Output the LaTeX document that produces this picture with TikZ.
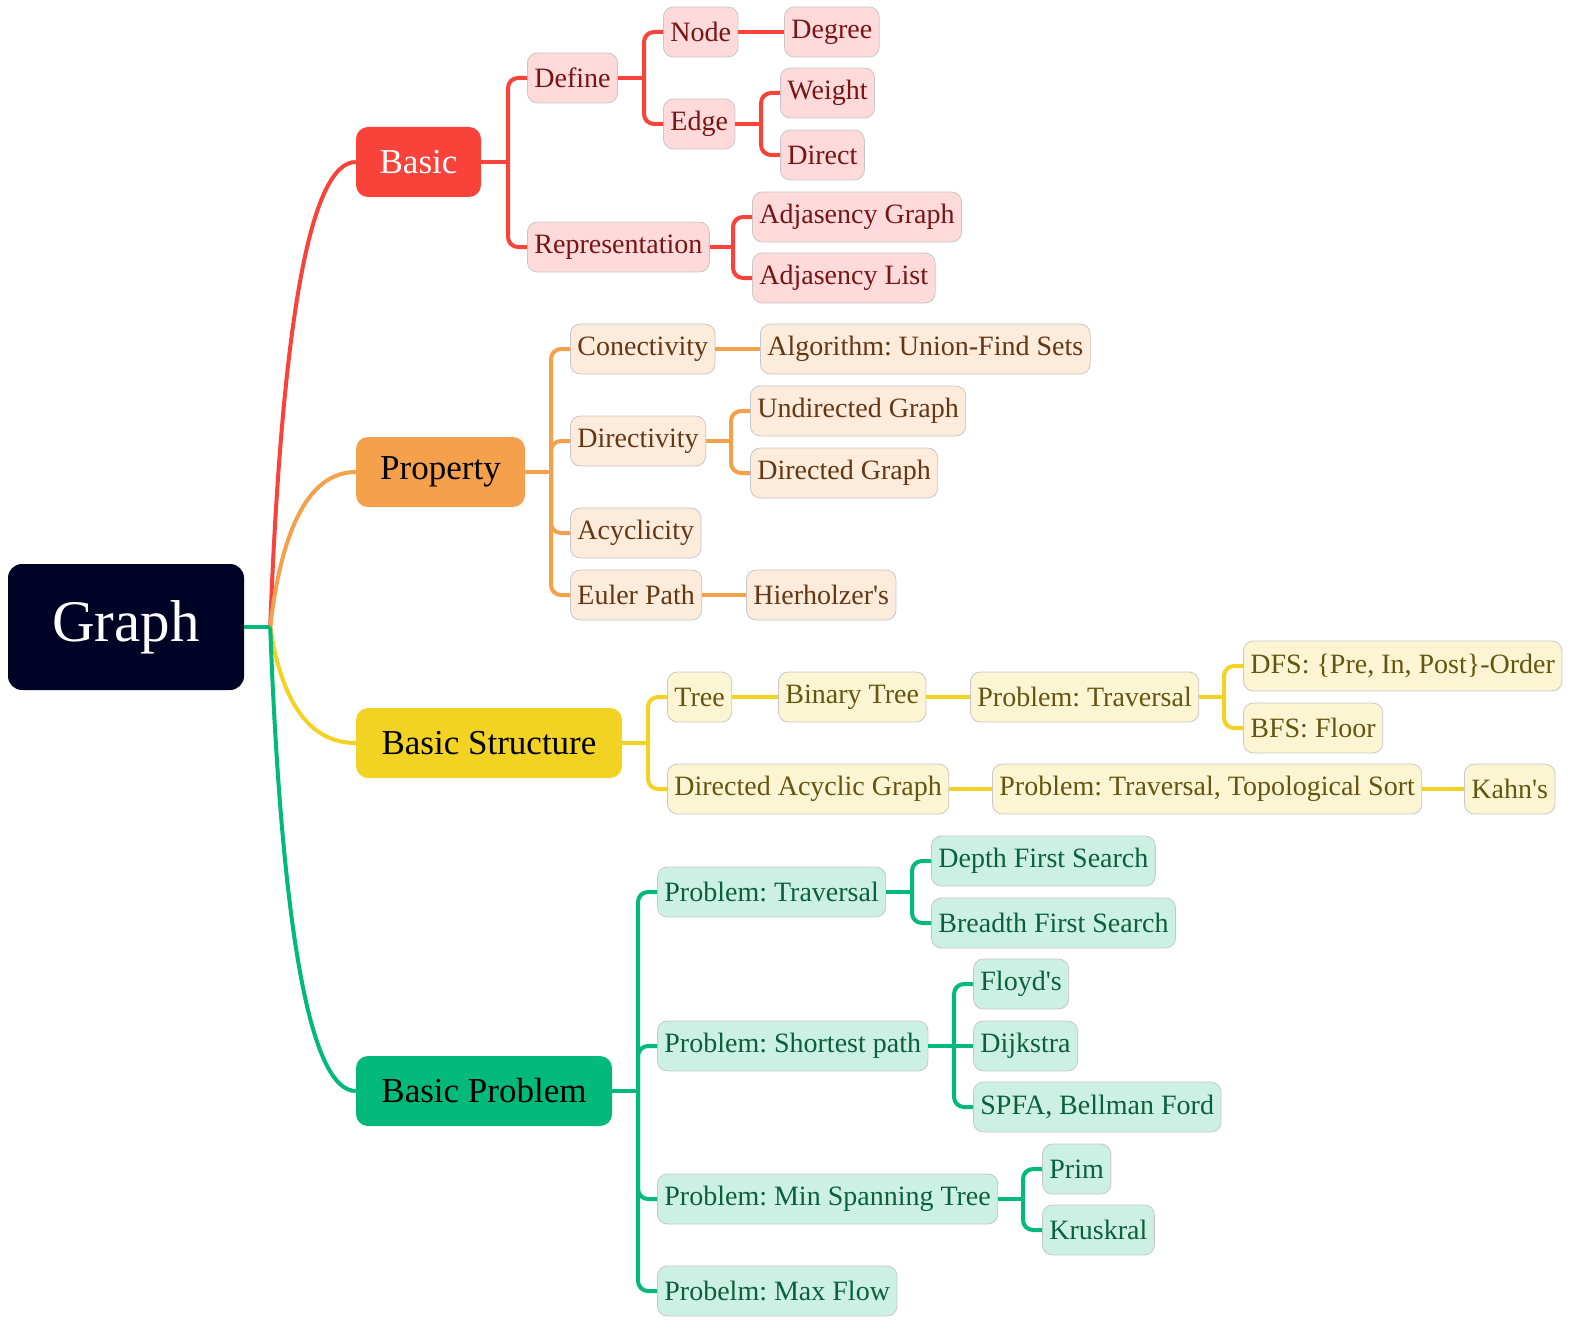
\documentclass[tikz,border=0pt]{standalone}
\usepackage{fontspec}
\setmainfont{Liberation Serif}[Ligatures=TeXOff]
\usetikzlibrary{calc}
\frenchspacing

\definecolor{rootc}{RGB}{0,2,38}
\definecolor{redc}{RGB}{249,67,58}
\definecolor{orangec}{RGB}{245,160,75}
\definecolor{yellowc}{RGB}{242,211,35}
\definecolor{greenc}{RGB}{0,185,122}
\definecolor{redbg}{RGB}{254,218,218}
\definecolor{redtx}{RGB}{120,20,20}
\definecolor{orangebg}{RGB}{253,235,220}
\definecolor{orangetx}{RGB}{100,55,20}
\definecolor{yellowbg}{RGB}{252,245,212}
\definecolor{yellowtx}{RGB}{100,85,15}
\definecolor{greenbg}{RGB}{204,241,228}
\definecolor{greentx}{RGB}{10,95,65}

\tikzset{
  leaf/.style={draw=black!22, line width=0.8pt, rounded corners=10, inner xsep=7,
    inner ysep=0, minimum height=50, anchor=west, font=\fontsize{28}{33}\selectfont},
  topic/.style={rounded corners=12, inner sep=0, minimum height=70,
    font=\fontsize{35}{42}\selectfont},
  redleaf/.style={leaf, fill=redbg, text=redtx},
  orangeleaf/.style={leaf, fill=orangebg, text=orangetx},
  yellowleaf/.style={leaf, fill=yellowbg, text=yellowtx},
  greenleaf/.style={leaf, fill=greenbg, text=greentx},
  link/.style={line width=4},
}

% parent -> child, elbow through a spine left of the child
\newcommand{\branch}[3]{%
  \coordinate (sp) at ($(#2.east -| #3.west)+(-19,0)$);
  \draw[link,#1] (#2.east) -- (sp);
  \draw[link,#1,rounded corners=10] (sp) |- (#3.west);}
% parent -> only child, same height
\newcommand{\follow}[3]{\draw[link,#1] (#2.east) -- (#3.west);}

\begin{document}
\begin{tikzpicture}[x=1pt,y=-1pt]
\useasboundingbox (0,0) rectangle (1581,1343);

\node[fill=rootc,text=white,rounded corners=14,inner sep=0,minimum width=236,minimum height=126,font=\fontsize{59}{70}\selectfont] (graph) at (126,627) {Graph};

\node[topic,fill=redc,text=white,minimum width=125] (basic) at (418.5,162) {Basic};
\node[topic,fill=orangec,minimum width=169] (property) at (440.5,472) {Property};
\node[topic,fill=yellowc,minimum width=266] (structure) at (489,743) {Basic Structure};
\node[topic,fill=greenc,minimum width=256] (problem) at (484,1091) {Basic Problem};

% Basic
\node[redleaf] (define) at (527,78) {Define};
\node[redleaf] (repr) at (527,247) {Representation};
\node[redleaf] (vertex) at (663,32) {Node};
\node[redleaf] (edge) at (663,124) {Edge};
\node[redleaf] (degree) at (784,32) {Degree};
\node[redleaf] (weight) at (780,93) {Weight};
\node[redleaf] (direct) at (780,155) {Direct};
\node[redleaf] (adjgraph) at (752,217) {Adjasency Graph};
\node[redleaf] (adjlist) at (752,278) {Adjasency List};

% Property
\node[orangeleaf] (conect) at (570,349) {Conectivity};
\node[orangeleaf] (unionfind) at (760,349) {Algorithm: Union-Find Sets};
\node[orangeleaf] (directiv) at (570,441) {Directivity};
\node[orangeleaf] (undirected) at (750,411) {Undirected Graph};
\node[orangeleaf] (directed) at (750,473) {Directed Graph};
\node[orangeleaf] (acyclic) at (570,533) {Acyclicity};
\node[orangeleaf] (euler) at (570,595) {Euler Path};
\node[orangeleaf] (hierholzer) at (746,595) {Hierholzer's};

% Basic Structure
\node[yellowleaf] (tree) at (667,697) {Tree};
\node[yellowleaf] (bintree) at (778,697) {Binary Tree};
\node[yellowleaf] (treetrav) at (970,697) {Problem: Traversal};
\node[yellowleaf] (order) at (1243,666) {DFS: \{Pre, In, Post\}-Order};
\node[yellowleaf] (floor) at (1243,728) {BFS: Floor};
\node[yellowleaf] (dag) at (667,789) {Directed Acyclic Graph};
\node[yellowleaf] (topo) at (992,789) {Problem: Traversal, Topological Sort};
\node[yellowleaf] (kahn) at (1464,789) {Kahn's};

% Basic Problem
\node[greenleaf] (traversal) at (657,892) {Problem: Traversal};
\node[greenleaf] (dfs) at (931,861) {Depth First Search};
\node[greenleaf] (bfs) at (931,923) {Breadth First Search};
\node[greenleaf] (shortest) at (657,1046) {Problem: Shortest path};
\node[greenleaf] (floyd) at (973,984) {Floyd's};
\node[greenleaf] (dijkstra) at (973,1046) {Dijkstra};
\node[greenleaf] (spfa) at (973,1107) {SPFA, Bellman Ford};
\node[greenleaf] (mst) at (657,1199) {Problem: Min Spanning Tree};
\node[greenleaf] (prim) at (1042,1169) {Prim};
\node[greenleaf] (kruskal) at (1042,1230) {Kruskral};
\node[greenleaf] (maxflow) at (657,1291) {Probelm: Max Flow};

% root curves
\coordinate (hub) at ($(graph.east)+(26,0)$);
\draw[link,redc] (hub) .. controls (282,317) and (311,162) .. (basic.west);
\draw[link,orangec] (hub) .. controls (282,524) and (311,472) .. (property.west);
\draw[link,yellowc] (hub) .. controls (282,705) and (311,743) .. (structure.west);
\draw[link,greenc] (hub) .. controls (282,937) and (311,1091) .. (problem.west);
\draw[link,greenc] (graph.east) -- (hub);

\branch{redc}{basic}{define}
\branch{redc}{basic}{repr}
\branch{redc}{define}{vertex}
\branch{redc}{define}{edge}
\follow{redc}{vertex}{degree}
\branch{redc}{edge}{weight}
\branch{redc}{edge}{direct}
\branch{redc}{repr}{adjgraph}
\branch{redc}{repr}{adjlist}

\branch{orangec}{property}{conect}
\branch{orangec}{property}{directiv}
\branch{orangec}{property}{acyclic}
\branch{orangec}{property}{euler}
\follow{orangec}{conect}{unionfind}
\branch{orangec}{directiv}{undirected}
\branch{orangec}{directiv}{directed}
\follow{orangec}{euler}{hierholzer}

\branch{yellowc}{structure}{tree}
\branch{yellowc}{structure}{dag}
\follow{yellowc}{tree}{bintree}
\follow{yellowc}{bintree}{treetrav}
\branch{yellowc}{treetrav}{order}
\branch{yellowc}{treetrav}{floor}
\follow{yellowc}{dag}{topo}
\follow{yellowc}{topo}{kahn}

\branch{greenc}{problem}{traversal}
\branch{greenc}{problem}{shortest}
\branch{greenc}{problem}{mst}
\branch{greenc}{problem}{maxflow}
\branch{greenc}{traversal}{dfs}
\branch{greenc}{traversal}{bfs}
\branch{greenc}{shortest}{floyd}
\follow{greenc}{shortest}{dijkstra}
\branch{greenc}{shortest}{spfa}
\branch{greenc}{mst}{prim}
\branch{greenc}{mst}{kruskal}
\end{tikzpicture}
\end{document}
